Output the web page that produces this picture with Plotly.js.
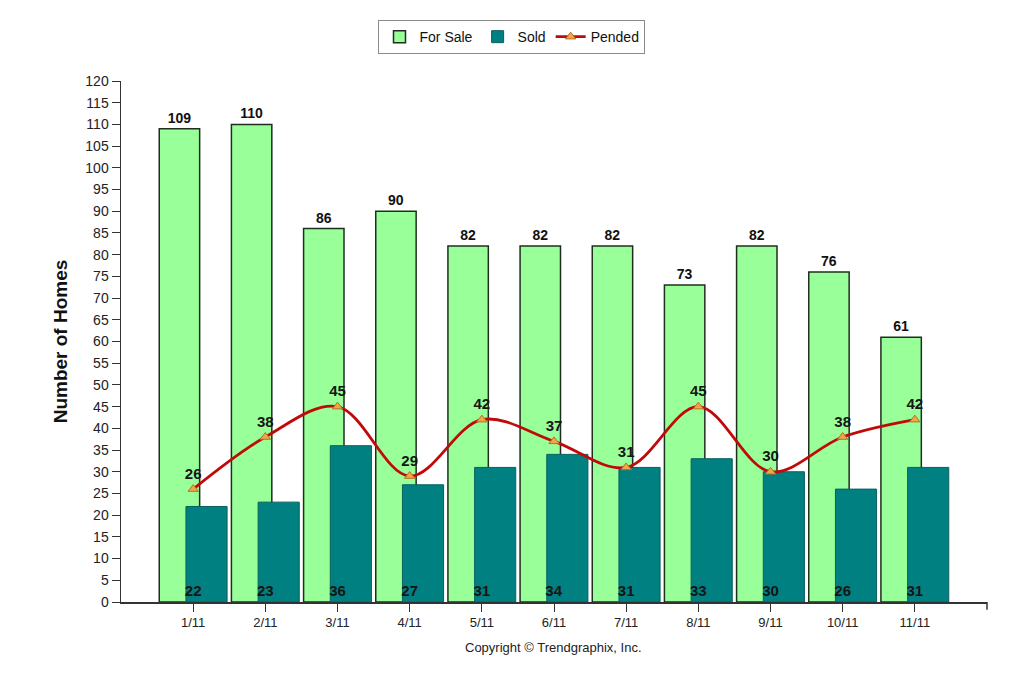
<!DOCTYPE html>
<html>
<head>
<meta charset="utf-8">
<script src="https://cdn.plot.ly/plotly-3.0.1.min.js"></script>
<style>html,body{margin:0;padding:0;background:#fff;}#chart{width:1024px;height:683px;}</style>
</head>
<body>
<div id="chart"></div>
<script>
const months = ["1/11","2/11","3/11","4/11","5/11","6/11","7/11","8/11","9/11","10/11","11/11"];
const forSale = [109,110,86,90,82,82,82,73,82,76,61];
const sold = [22,23,36,27,31,34,31,33,30,26,31];
const pended = [26,38,45,29,42,37,31,45,30,38,42];
const yTicks = [0,5,10,15,20,25,30,35,40,45,50,55,60,65,70,75,80,85,90,95,100,105,110,115,120];

const fontFam = "Liberation Sans, Arial, sans-serif";

const traces = [
  {
    type: "bar", name: "For Sale", x: months, y: forSale,
    offset: -0.47, width: 0.56,
    marker: {color: "#99ff99", line: {color: "#1f2f1f", width: 1.5}},
    text: forSale.map(String), textposition: "outside", cliponaxis: false,
    textfont: {family: fontFam, size: 14, color: "#111", weight: "bold"},
    hoverinfo: "skip"
  },
  {
    type: "bar", name: "Sold", x: months, y: sold,
    offset: -0.10, width: 0.57,
    marker: {color: "#008080", line: {color: "#0a5f5f", width: 1}},
    hoverinfo: "skip"
  },
  {
    /* transparent carrier for the Sold value labels, centred on the category */
    type: "bar", name: "Sold labels", x: months, y: sold, showlegend: false,
    offset: -0.25, width: 0.5,
    marker: {color: "rgba(0,0,0,0)", line: {width: 0}},
    text: sold.map(String), textposition: "inside", insidetextanchor: "start",
    textangle: 0, constraintext: "none",
    textfont: {family: fontFam, size: 15, color: "#151515", weight: "bold"},
    hoverinfo: "skip"
  },
  {
    type: "scatter", name: "Pended", x: months, y: pended,
    mode: "lines+markers+text",
    line: {color: "#c00a0a", width: 2.8, shape: "spline", smoothing: 1},
    marker: {symbol: "triangle-up", size: 9, color: "#f2a447", line: {color: "#b07428", width: 1}},
    text: pended.map(String), textposition: "top center",
    textfont: {family: fontFam, size: 15, color: "#151515", weight: "bold"},
    cliponaxis: false, hoverinfo: "skip"
  }
];

const layout = {
  width: 1024, height: 683,
  margin: {l: 121, r: 37, t: 81, b: 81},
  paper_bgcolor: "#fff", plot_bgcolor: "#fff",
  font: {family: fontFam, size: 13, color: "#222"},
  barmode: "overlay",
  showlegend: true,
  legend: {
    orientation: "h", x: 0.4515, xanchor: "center", y: 1.117, yanchor: "top",
    bgcolor: "#fff", bordercolor: "#8a8a8a", borderwidth: 1,
    font: {family: fontFam, size: 14, color: "#111"},
    traceorder: "normal"
  },
  xaxis: {
    type: "category", range: [-1, 11],
    showgrid: false, zeroline: false,
    showline: true, linecolor: "#333", linewidth: 1.5,
    ticks: "outside", ticklen: 8, tickcolor: "#333",
    tickfont: {family: fontFam, size: 13, color: "#222"}
  },
  yaxis: {
    range: [0, 120], tickvals: yTicks, ticktext: yTicks.map(String),
    showgrid: false, zeroline: false,
    showline: true, linecolor: "#333", linewidth: 1.5,
    ticks: "outside", ticklen: 8, tickcolor: "#333",
    tickfont: {family: fontFam, size: 14, color: "#222"},
    title: {text: "Number of Homes", standoff: 12, font: {family: fontFam, size: 19, color: "#111", weight: "bold"}}
  },
  shapes: [
    {type: "line", xref: "paper", yref: "paper", x0: 1, x1: 1, y0: 0, y1: -0.015, line: {color: "#333", width: 1.5}}
  ],
  annotations: [
    {text: "Copyright © Trendgraphix, Inc.", xref: "paper", yref: "paper", x: 0.499, y: -0.0864,
     xanchor: "center", yanchor: "middle", showarrow: false,
     font: {family: fontFam, size: 13, color: "#222"}}
  ]
};

Plotly.newPlot("chart", traces, layout, {displayModeBar: false, staticPlot: true});
</script>
</body>
</html>
